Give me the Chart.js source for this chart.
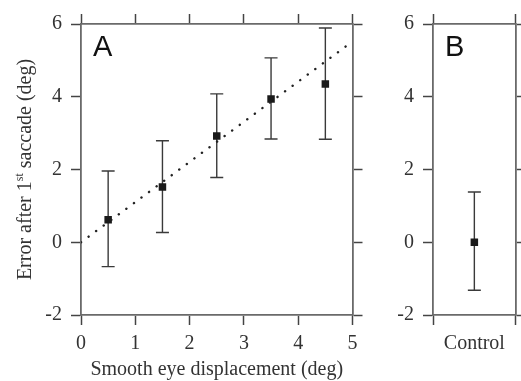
<!DOCTYPE html>
<html>
<head>
<meta charset="utf-8">
<script src="https://cdn.jsdelivr.net/npm/chart.js@4/dist/chart.umd.min.js"></script>
<style>
body { margin: 0; background: #fff; width: 521px; height: 381px; overflow: hidden; position: relative; }
canvas { position: absolute; top: 0; }
#chartA { left: 0; }
#chartB { left: 370px; }
</style>
</head>
<body>
<canvas id="chartA" width="400" height="381"></canvas>
<canvas id="chartB" width="151" height="381"></canvas>
<script>
// panel A data
const displacement = [0.5, 1.5, 2.5, 3.5, 4.5];
const errorMean = [0.62, 1.52, 2.92, 3.94, 4.35];
const errorUpper = [1.96, 2.79, 4.08, 5.07, 5.89];
const errorLower = [-0.67, 0.27, 1.78, 2.84, 2.83];
const fitX = [0, 5];
const fitY = [0, 5.52];
// panel B data
const controlLabels = ['Control'];
const controlMean = [0];
const controlUpper = [1.38];
const controlLower = [-1.32];

const xMinA = 0, xMaxA = 5, xStepA = 1;
const yMin = -2, yMax = 6, yStep = 2;

const axisColor = '#6a6a6a';
const textColor = '#333';
const serif = '"Liberation Serif", "Times New Roman", serif';

// draw error bars under the markers, using the chart scales
const errorBars = {
  id: 'errorBars',
  beforeDatasetsDraw(chart) {
    const ctx = chart.ctx;
    const ys = chart.scales.y;
    chart.data.datasets.forEach((ds, di) => {
      if (!ds.upper) return;
      const meta = chart.getDatasetMeta(di);
      ctx.save();
      ctx.strokeStyle = '#3a3a3a';
      ctx.lineWidth = 1.4;
      meta.data.forEach((pt, i) => {
        const yt = ys.getPixelForValue(ds.upper[i]);
        const yb = ys.getPixelForValue(ds.lower[i]);
        ctx.beginPath();
        ctx.moveTo(pt.x, yt); ctx.lineTo(pt.x, yb);
        ctx.moveTo(pt.x - 6.5, yt); ctx.lineTo(pt.x + 6.5, yt);
        ctx.moveTo(pt.x - 6.5, yb); ctx.lineTo(pt.x + 6.5, yb);
        ctx.stroke();
      });
      ctx.restore();
    });
  }
};

// panel letter + rotated y title with superscript
const decorations = {
  id: 'decorations',
  afterDraw(chart, args, opts) {
    const ctx = chart.ctx;
    const area = chart.chartArea;
    ctx.save();
    ctx.fillStyle = '#111';
    ctx.font = '29px "Liberation Sans", Arial, sans-serif';
    ctx.textBaseline = 'alphabetic';
    ctx.fillText(opts.letter, area.left + 12, area.top + 32);
    ctx.restore();
    if (!opts.yTitle) return;
    ctx.save();
    ctx.fillStyle = textColor;
    const big = '20px ' + serif, small = '12px ' + serif;
    const p1 = 'Error after 1', sup = 'st', p2 = ' saccade (deg)';
    ctx.font = big; const w1 = ctx.measureText(p1).width; const w3 = ctx.measureText(p2).width;
    ctx.font = small; const w2 = ctx.measureText(sup).width;
    const total = w1 + w2 + w3;
    ctx.translate(31, (area.top + area.bottom) / 2);
    ctx.rotate(-Math.PI / 2);
    ctx.textBaseline = 'alphabetic';
    let x = -total / 2;
    ctx.font = big; ctx.fillText(p1, x, 0); x += w1;
    ctx.font = small; ctx.fillText(sup, x, -8); x += w2;
    ctx.font = big; ctx.fillText(p2, x, 0);
    ctx.restore();
  }
};

function frameAxis(position, size, extra) {
  const horizontal = position === 'top' || position === 'bottom';
  return Object.assign({
    position: position,
    border: { display: true, color: axisColor, width: 1.8 },
    grid: { drawOnChartArea: false, drawTicks: true, tickLength: 10, tickWidth: 1.5, tickColor: '#444' },
    afterFit(scale) { if (horizontal) scale.height = size; else scale.width = size; }
  }, extra);
}

const yTickFont = { family: serif, size: 20 };

new Chart(document.getElementById('chartA'), {
  type: 'scatter',
  data: {
    datasets: [
      {
        type: 'line',
        data: fitX.map((x, i) => ({ x: x, y: fitY[i] })),
        borderColor: '#222',
        borderWidth: 2.4,
        borderDash: [0.1, 9.3],
        borderCapStyle: 'round',
        pointRadius: 0,
        fill: false
      },
      {
        data: displacement.map((x, i) => ({ x: x, y: errorMean[i] })),
        upper: errorUpper,
        lower: errorLower,
        pointStyle: 'rect',
        pointRadius: 5.3,
        backgroundColor: '#1a1a1a',
        borderColor: '#1a1a1a',
        borderWidth: 0
      }
    ]
  },
  options: {
    responsive: false,
    animation: false,
    layout: { padding: 0 },
    plugins: { legend: { display: false }, tooltip: { enabled: false }, decorations: { letter: 'A', yTitle: true } },
    scales: {
      x: frameAxis('bottom', 66, {
        type: 'linear', min: xMinA, max: xMaxA,
        ticks: { stepSize: xStepA, padding: 7, color: textColor, font: yTickFont },
        title: { display: true, text: 'Smooth eye displacement (deg)', color: textColor, font: { family: serif, size: 20, lineHeight: 1 }, padding: { top: 0, bottom: 1 } }
      }),
      x2: frameAxis('top', 24, {
        type: 'linear', min: xMinA, max: xMaxA,
        ticks: { stepSize: xStepA, display: false }
      }),
      y: frameAxis('left', 81, {
        min: yMin, max: yMax,
        ticks: { stepSize: yStep, padding: 9, color: textColor, font: yTickFont }
      }),
      y2: frameAxis('right', 400 - 352.5, {
        min: yMin, max: yMax,
        ticks: { stepSize: yStep, display: false }
      })
    }
  },
  plugins: [errorBars, decorations]
});

new Chart(document.getElementById('chartB'), {
  type: 'line',
  data: {
    labels: controlLabels,
    datasets: [{
      data: controlMean,
      upper: controlUpper,
      lower: controlLower,
      showLine: false,
      pointStyle: 'rect',
      pointRadius: 5.3,
      backgroundColor: '#1a1a1a',
      borderColor: '#1a1a1a',
      borderWidth: 0
    }]
  },
  options: {
    responsive: false,
    animation: false,
    layout: { padding: 0 },
    plugins: { legend: { display: false }, tooltip: { enabled: false }, decorations: { letter: 'B', yTitle: false } },
    scales: {
      x: frameAxis('bottom', 66, {
        type: 'category', offset: true,
        grid: { drawOnChartArea: false, offset: true, tickLength: 10, tickWidth: 1.5, tickColor: '#444' },
        ticks: { padding: 7, color: textColor, font: yTickFont }
      }),
      x2: frameAxis('top', 24, {
        type: 'category', offset: true, labels: controlLabels,
        grid: { drawOnChartArea: false, offset: true, tickLength: 10, tickWidth: 1.5, tickColor: '#444' },
        ticks: { display: false }
      }),
      y: frameAxis('left', 63, {
        min: yMin, max: yMax,
        ticks: { stepSize: yStep, padding: 9, color: textColor, font: yTickFont }
      }),
      y2: frameAxis('right', 4, {
        min: yMin, max: yMax,
        ticks: { stepSize: yStep, display: false }
      })
    }
  },
  plugins: [errorBars, decorations]
});
</script>
</body>
</html>
